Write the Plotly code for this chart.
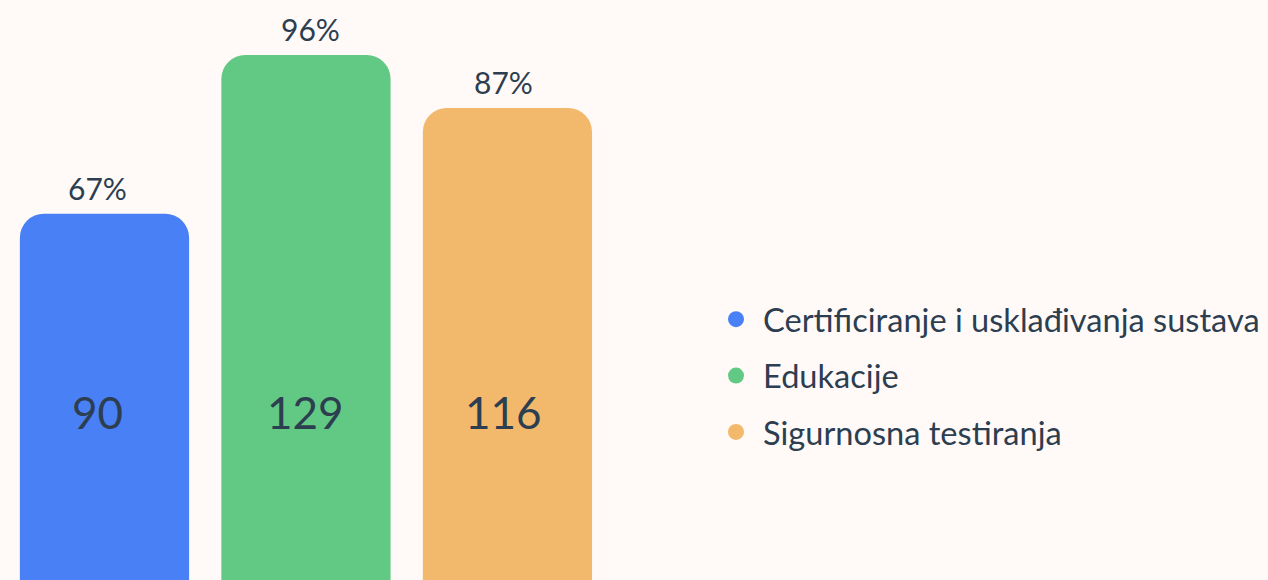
import plotly.graph_objects as go

categories = ["Certificiranje i usklađivanja sustava", "Edukacije", "Sigurnosna testiranja"]
counts = [90, 129, 116]
percents = ["67%", "96%", "87%"]
colors = ["#4A80F5", "#62C984", "#F2B86C"]

BG = "#FFFAF8"
TXT = "#2C3E50"
FONT = "Lato"

positions = list(range(len(categories)))
# small horizontal nudges of the labels, as in the original layout
pct_nudge = [-7, 5, -3.5]
val_nudge = [-6.5, 0, -3.5]

fig = go.Figure()
for i, (name, val, col) in enumerate(zip(categories, counts, colors)):
    fig.add_trace(go.Bar(
        x=[positions[i]], y=[val], width=0.84,
        marker=dict(color=col, line=dict(width=0)),
        showlegend=False, hoverinfo="skip",
    ))
    # legend entry with a round marker
    fig.add_trace(go.Scatter(
        x=[None], y=[None], mode="markers", name=name,
        marker=dict(color=col, size=22, symbol="circle"),
        legendgroup=name,
    ))

annotations = []
for i, (val, pct) in enumerate(zip(counts, percents)):
    annotations.append(dict(
        x=positions[i], y=val, text=pct, showarrow=False,
        yanchor="middle", yshift=26, xshift=pct_nudge[i],
        font=dict(family=FONT, size=30, color=TXT),
    ))
    annotations.append(dict(
        x=positions[i], y=41.3, text=str(val), showarrow=False,
        yanchor="middle", xshift=val_nudge[i],
        font=dict(family=FONT, size=44, color=TXT),
    ))

fig.update_layout(
    width=1268, height=580,
    paper_bgcolor=BG, plot_bgcolor=BG,
    margin=dict(l=0, r=656, t=0, b=0),
    barmode="overlay",
    barcornerradius=24,
    xaxis=dict(range=[-0.5186, 2.519], visible=False, fixedrange=True),
    yaxis=dict(range=[0, 142.51], visible=False, fixedrange=True),
    annotations=annotations,
    showlegend=True,
    legend=dict(
        xref="container", yref="container",
        x=709 / 1268, y=(580 - 376) / 580,
        xanchor="left", yanchor="middle",
        font=dict(family=FONT, size=32.6, color=TXT),
        itemwidth=44, tracegroupgap=11,
        bgcolor="rgba(0,0,0,0)",
    ),
    font=dict(family=FONT, color=TXT),
)

fig.write_html("out.html", config={"displayModeBar": False},
               post_script="document.body.style.margin='0';")
